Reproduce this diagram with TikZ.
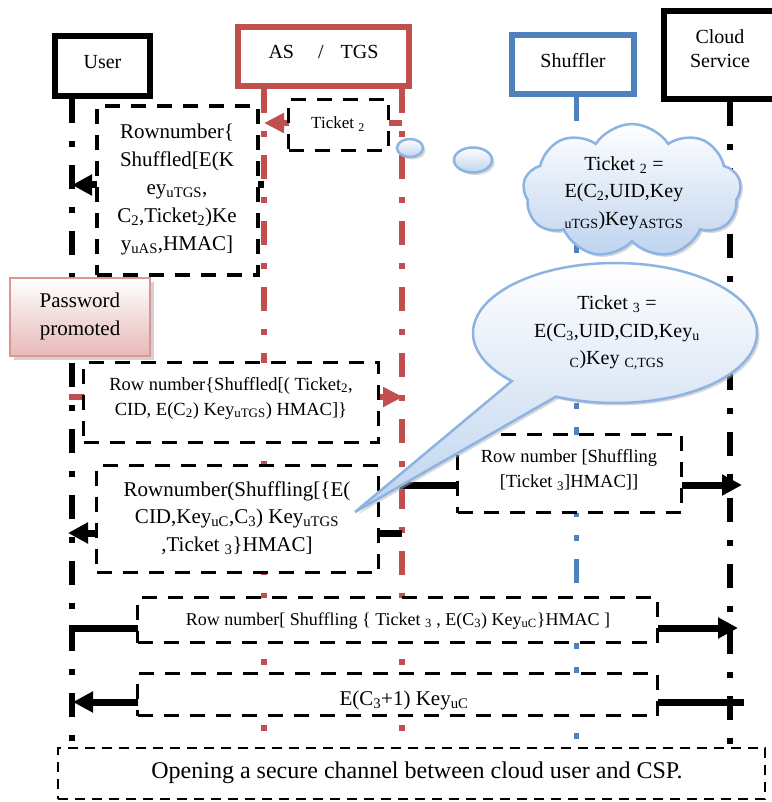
\documentclass[tikz,border=0pt]{standalone}
\usepackage{fontspec}
\setmainfont{Liberation Serif}
\usetikzlibrary{arrows.meta,shapes.geometric,shapes.symbols,shapes.callouts,shadows}
\definecolor{asred}{HTML}{C0504D}
\definecolor{shblue}{HTML}{4F81BD}
\definecolor{bubline}{HTML}{8DB3E2}
\definecolor{bubfill}{HTML}{BED3EE}
\definecolor{pinkline}{HTML}{D99694}
\definecolor{pinkfill}{HTML}{E6B9B8}
\newcommand{\fsz}[2]{\fontsize{#1pt}{#2pt}\selectfont}
\tikzset{
  hdr/.style={draw, line width=6pt, fill=white, inner sep=0pt},
  msgbox/.style={draw, fill=white, line width=3.5pt, dash pattern=on 15pt off 11pt, inner sep=0pt},
  lifeline/.style={line width=6pt, dash pattern=on 24pt off 18pt on 6pt off 18pt},
  blkarrow/.style={line width=7pt, -{Triangle[length=20pt,width=20pt]}},
  redarrow/.style={line width=6pt, draw=asred, -{Triangle[length=20pt,width=19pt]}},
  txt/.style={align=center, inner sep=0pt},
  bubble/.style={draw=bubline, line width=2.5pt, top color=white, bottom color=bubfill,
     drop shadow={shadow xshift=2.5pt, shadow yshift=-2.5pt, fill=black!30}},
}
\begin{document}
\begin{tikzpicture}[x=1pt,y=-1pt]
\useasboundingbox (0,0) rectangle (771,802);

% header boxes
\node[hdr, minimum width=95pt, minimum height=60pt] (user) at (102.5,66) {};
\node[hdr, draw=asred, minimum width=171pt, minimum height=59pt] (astgs) at (323.5,56.5) {};
\node[hdr, draw=shblue, line width=5.5pt, minimum width=122pt, minimum height=59pt] (shuf) at (573,64.5) {};
\node[hdr, minimum width=112pt, minimum height=88pt] (cloud) at (720,55) {};
\node[txt, font=\fsz{20}{24}] (usert) at (102.5,62) {User};
\node[txt, font=\fsz{20}{24}] (astgst) at (323.5,52) {AS\hspace{24pt}/\hspace{17pt}TGS};
\node[txt, font=\fsz{20}{24}] (shuft) at (573,61) {Shuffler};
\node[txt, font=\fsz{20}{24}] (cloudt) at (720,49) {Cloud\\Service};

% lifeline ends
\coordinate (ue) at (72,746);
\coordinate (ale) at (264,746);
\coordinate (are) at (402,746);
\coordinate (se) at (576,746);
\coordinate (ce) at (730,746);
\draw[lifeline] (ue |- user.south) -- (ue);
\draw[lifeline, draw=asred] (ale |- astgs.south) -- (ale);
\draw[lifeline, draw=asred] (are |- astgs.south) -- (are);
\draw[lifeline, draw=shblue, line width=5pt] (se |- shuf.south) -- (se);
\draw[lifeline] (ce |- cloud.south) -- (ce);

% message end points
\coordinate (t2s) at (402,123);
\coordinate (t2e) at (264,123);
\coordinate (as1) at (264,185);
\coordinate (ua1) at (72,185);
\coordinate (uc) at (69,397);
\coordinate (rc) at (403,397);
\coordinate (rd) at (402,533);
\coordinate (ud) at (68,533);
\coordinate (re) at (400,485);
\coordinate (cle) at (742,485);
\coordinate (uf) at (69,628);
\coordinate (clf) at (738,628);
\coordinate (clg) at (744,702);
\coordinate (ug) at (73,702);

\draw[redarrow] (t2s) -- (t2e);
\draw[blkarrow] (as1) -- (ua1);
\draw[redarrow] (uc) -- (rc);
\draw[blkarrow] (rd) -- (ud);
\draw[blkarrow] (re) -- (cle);
\draw[blkarrow] (uf) -- (clf);
\draw[blkarrow] (clg) -- (ug);

% message boxes
\node[msgbox, minimum width=161pt, minimum height=169pt] (boxa) at (177.5,190.5) {};
\node[msgbox, minimum width=100pt, minimum height=51pt] (boxb) at (338.5,125) {};
\node[msgbox, minimum width=295pt, minimum height=80pt] (boxc) at (231,402.5) {};
\node[msgbox, minimum width=282pt, minimum height=107pt] (boxd) at (237.5,519) {};
\node[msgbox, minimum width=224pt, minimum height=78pt] (boxe) at (569.5,473.5) {};
\node[msgbox, minimum width=520pt, minimum height=45pt] (boxf) at (397.5,620) {};
\node[msgbox, minimum width=520pt, minimum height=42pt] (boxg) at (397.5,694.5) {};
\node[msgbox, line width=2.3pt, dash pattern=on 10pt off 7pt, minimum width=707pt, minimum height=51pt] (boxh) at (411.5,773.5) {};

\node[txt, font=\fsz{21}{28}] (boxat) at (177,189) {Rownumber\{\\Shuffled[E(K\\ey\textsubscript{uTGS},\\C\textsubscript{2},Ticket\textsubscript{2})Ke\\y\textsubscript{uAS},HMAC]};
\node[txt, font=\fsz{17}{20}] (boxbt) at (338,124) {Ticket \textsubscript{2}};
\node[txt, font=\fsz{18.5}{25}] (boxct) at (231,398) {Row number\{Shuffled[( Ticket\textsubscript{2},\\CID, E(C\textsubscript{2}) Key\textsubscript{uTGS}) HMAC]\}};
\node[txt, font=\fsz{21}{27.5}] (boxdt) at (237,518) {Rownumber(Shuffling[\{E(\\CID,Key\textsubscript{uC},C\textsubscript{3}) Key\textsubscript{uTGS}\\,Ticket \textsubscript{3}\}HMAC]};
\node[txt, font=\fsz{18.5}{25}] (boxet) at (569,470) {Row number [Shuffling\\\relax[Ticket \textsubscript{3}]HMAC]]};
\node[txt, font=\fsz{18}{22}] (boxft) at (398,621) {Row number[ Shuffling \{ Ticket \textsubscript{3} , E(C\textsubscript{3}) Key\textsubscript{uC}\}HMAC ]};
\node[txt, font=\fsz{21}{25}] (boxgt) at (404,700) {E(C\textsubscript{3}+1) Key\textsubscript{uC}};
\node[txt, font=\fsz{24}{28}] (boxht) at (417,773) {Opening a secure channel between cloud user and CSP.};

% password promoted
\node[draw=pinkline, line width=2pt, top color=white, bottom color=pinkfill,
      drop shadow={shadow xshift=3.5pt, shadow yshift=-3.5pt, fill=black!35},
      minimum width=140pt, minimum height=78pt, inner sep=0pt] (pwd) at (80,317) {};
\node[txt, font=\fsz{21}{28}] (pwdt) at (80,316) {Password\\promoted};

% thought bubble
\node[bubble, ellipse, minimum width=26pt, minimum height=18pt, inner sep=0pt] (ov1) at (410,148) {};
\node[bubble, ellipse, minimum width=38pt, minimum height=25pt, inner sep=0pt] (ov2) at (473,160) {};
\node[bubble, cloud, cloud puffs=9, cloud puff arc=115, cloud ignores aspect,
      minimum width=218pt, minimum height=134pt, inner sep=0pt] (tk2) at (632,191) {};
\node[txt, font=\fsz{20}{27.5}] (tk2t) at (624,193) {Ticket \textsubscript{2} =\\E(C\textsubscript{2},UID,Key\\\textsubscript{uTGS})Key\textsubscript{ASTGS}};

% speech callout
\node[bubble, ellipse callout, minimum width=284pt, minimum height=140pt, inner sep=0pt,
      callout absolute pointer={(355,512)}, callout pointer arc=22] (tk3) at (615,333) {};
\node[txt, font=\fsz{20}{27.5}] (tk3t) at (617,333) {Ticket \textsubscript{3} =\\E(C\textsubscript{3},UID,CID,Key\textsubscript{u}\\\textsubscript{C})Key \textsubscript{C,TGS}};
\end{tikzpicture}
\end{document}
